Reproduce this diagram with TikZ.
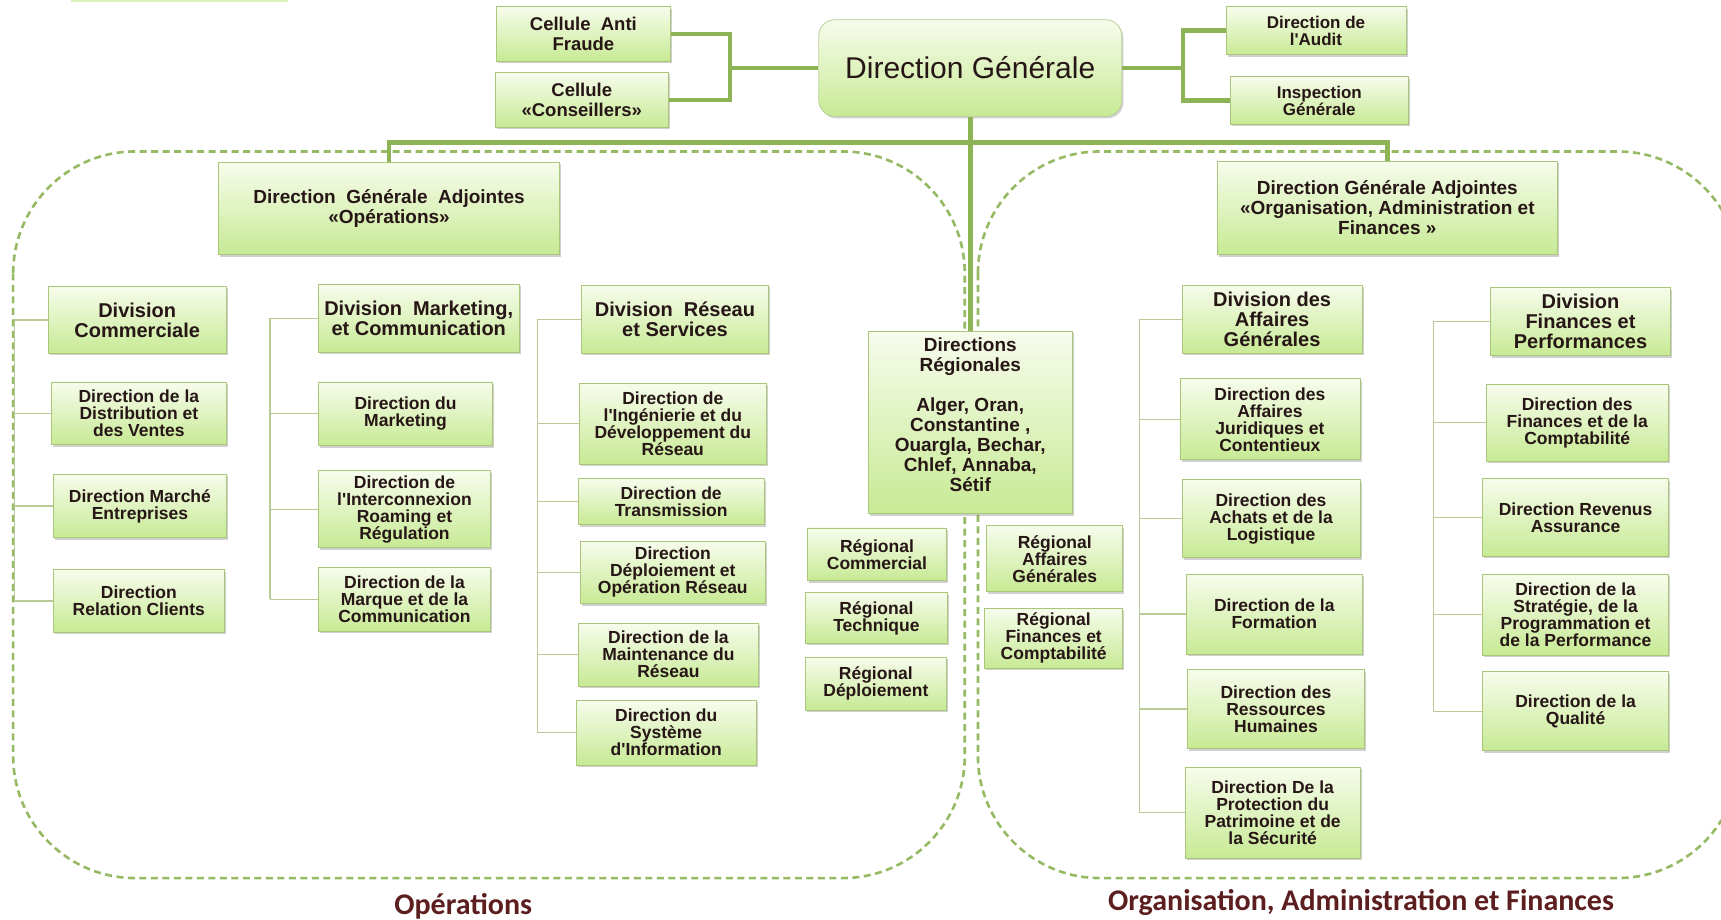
\documentclass[tikz,border=0pt]{standalone}
\usepackage{fontspec}
\setmainfont{Liberation Sans}
% box text keeps straight apostrophes: no TeX ligature mapping
\newfontfamily\boxfont{Liberation Sans}
\newfontfamily\labelfont{Carlito}
\usetikzlibrary{shadows}

\definecolor{txt}{RGB}{38,22,22}
\definecolor{boxtop}{RGB}{247,252,236}
\definecolor{boxbot}{RGB}{199,234,148}
\definecolor{boxline}{RGB}{170,198,122}
\definecolor{thickline}{RGB}{141,180,84}
\definecolor{thinline}{RGB}{186,202,150}
\definecolor{dashcol}{RGB}{150,186,100}
\definecolor{lbl}{RGB}{92,30,30}

\tikzset{
  orgbox/.style={draw=boxline, line width=0.8pt, top color=boxtop, bottom color=boxbot,
    inner sep=0pt, align=center, text=txt,
    drop shadow={shadow xshift=1.6pt, shadow yshift=-2pt, opacity=0.3, fill=black!60},
    font=\boxfont\bfseries\fontsize{17.5}{17}\selectfont},
  divfont/.style={font=\boxfont\bfseries\fontsize{20}{20}\selectfont},
  topfont/.style={font=\boxfont\bfseries\fontsize{18.5}{20}\selectfont},
  dgafont/.style={font=\boxfont\bfseries\fontsize{19}{20}\selectfont},
  smallfont/.style={font=\boxfont\bfseries\fontsize{17}{17}\selectfont},
  headbox/.style={rounded corners=16pt, draw=boxline!80,
    font=\boxfont\fontsize{30}{30}\selectfont},
  thickconn/.style={draw=thickline, line width=4.5pt},
  thinconn/.style={draw=thinline, line width=1.3pt},
  dashbox/.style={draw=dashcol, line width=2.6pt, dash pattern=on 7pt off 4.5pt,
    rounded corners=122pt},
  sectlabel/.style={text=lbl, font=\labelfont\bfseries\fontsize{30}{30}\selectfont},
}

% \obox[style]{name}{x1}{y1}{x2}{y2}{text}: box spanning the given corners
\newcommand\obox[7][]{%
  \node[orgbox,#1,minimum width={(#5-#3)*1.0976pt},minimum height={(#6-#4)*1.0976pt}]
    (#2) at ({(#3+#5)/2},{(#4+#6)/2}) {#7};}

\begin{document}
\begin{tikzpicture}[x=1.0976pt, y=-1.0976pt]
\useasboundingbox (0,0) rectangle (1568,838);
\clip (0,0) rectangle (1568,838);
\fill[white] (0,0) rectangle (1568,838);

% the two groups
\draw[dashbox] (12,138) rectangle (879,800);
\draw[dashbox] (891,138) rectangle (1585,800);

% edge of a box above the frame
\fill[boxbot!60] (65,0) rectangle (262,2);

% top level
\obox[topfont]{caf}{452}{6}{611}{56}{Cellule\ \ Anti\\Fraude}
\obox[topfont]{cons}{451}{66}{609}{116}{Cellule\\«Conseillers»}
\obox[headbox]{dg}{746}{18}{1022}{106}{Direction Générale}
\obox[smallfont]{audit}{1117}{6}{1281}{50}{Direction de\\l'Audit}
\obox[smallfont]{insp}{1121}{70}{1283}{113}{Inspection\\Générale}

\obox[dgafont]{dgaop}{199}{148}{510}{232}{Direction\ \ Générale\ \ Adjointes\\«Opérations»}
\obox[dgafont]{dgaoaf}{1109}{147}{1419}{232}{Direction Générale Adjointes\\«Organisation, Administration et\\Finances »}

% commercial
\obox[divfont]{dc}{44}{261}{206}{322}{Division\\Commerciale}
\obox{dd}{47}{348}{206}{405}{Direction de la\\Distribution et\\des Ventes}
\obox{dme}{49}{432}{206}{490}{Direction Marché\\Entreprises}
\obox{drc}{49}{519}{204}{576}{Direction\\Relation Clients}

% marketing
\obox[divfont]{dm}{290}{259}{473}{321}{Division\ \ Marketing,\\et Communication}
\obox{dmk}{290}{348}{449}{406}{Direction du\\Marketing}
\obox{dir}{290}{429}{447}{499}{Direction de\\l'Interconnexion\\Roaming et\\Régulation}
\obox{dmc}{290}{517}{447}{575}{Direction de la\\Marque et de la\\Communication}

% network
\obox[divfont]{drs}{530}{260}{700}{322}{Division\ \ Réseau\\et Services}
\obox{did}{528}{349}{698}{423}{Direction de\\l'Ingénierie et du\\Développement du\\Réseau}
\obox{dt}{527}{436}{696}{478}{Direction de\\Transmission}
\obox{ddo}{529}{493}{697}{550}{Direction\\Déploiement et\\Opération Réseau}
\obox{dmr}{527}{568}{691}{625}{Direction de la\\Maintenance du\\Réseau}
\obox{dsi}{525}{638}{689}{697}{Direction du\\Système\\d'Information}

% regional (text sits in the upper part of the box)
\obox[dgafont]{dr}{791}{302}{977}{468}{Directions\\Régionales\\[20pt]Alger, Oran,\\Constantine ,\\Ouargla, Bechar,\\Chlef, Annaba,\\Sétif\\[-4pt]\mbox{}}
\obox{rc}{736}{481}{862}{529}{Régional\\Commercial}
\obox{rt}{734}{540}{863}{586}{Régional\\Technique}
\obox{rd}{734}{599}{862}{647}{Régional\\Déploiement}
\obox{rag}{899}{479}{1023}{539}{Régional\\Affaires\\Générales}
\obox{rfc}{897}{554}{1023}{609}{Régional\\Finances et\\Comptabilité}

% general affairs
\obox[divfont]{dag}{1077}{260}{1241}{322}{Division des\\Affaires\\Générales}
\obox{daj}{1075}{345}{1239}{419}{Direction des\\Affaires\\Juridiques et\\Contentieux}
\obox{dal}{1077}{437}{1239}{508}{Direction des\\Achats et de la\\Logistique}
\obox{df}{1081}{523}{1241}{596}{Direction de la\\Formation}
\obox{drh}{1082}{610}{1243}{682}{Direction des\\Ressources\\Humaines}
\obox{dps}{1080}{699}{1239}{782}{Direction De la\\Protection du\\Patrimoine et de\\la Sécurité}

% finance
\obox[divfont]{dfp}{1358}{262}{1522}{324}{Division\\Finances et\\Performances}
\obox{dfc}{1354}{350}{1520}{420}{Direction des\\Finances et de la\\Comptabilité}
\obox{dra}{1351}{436}{1520}{507}{Direction Revenus\\Assurance}
\obox{dsp}{1351}{523}{1520}{597}{Direction de la\\Stratégie, de la\\Programmation et\\de la Performance}
\obox{dq}{1351}{612}{1520}{684}{Direction de la\\Qualité}

% thick links of the top level
\coordinate (lbr) at (665,62);
\coordinate (rbr) at (1078,62);
\coordinate (hub) at (884,130);
\draw[thickconn] (caf.east) -| (lbr) |- (cons.east);
\draw[thickconn] (lbr) -- (dg.west);
\draw[thickconn] (audit.west) -| (rbr) |- (insp.west);
\draw[thickconn] (dg.east) -- (rbr);
\draw[thickconn] (dg.south) -- (hub) -- (dr.north);
\draw[thickconn] (dgaop.north) |- (hub) -| (dgaoaf.north);

% thin tree links
\coordinate (sA) at (13,0);
\coordinate (sB) at (246,0);
\coordinate (sC) at (490,0);
\coordinate (sD) at (1038,0);
\coordinate (sE) at (1306,0);
\foreach \n in {dc,dd,dme,drc} \draw[thinconn] (\n.west) -- (\n.west -| sA);
\draw[thinconn] (dc.west -| sA) -- (drc.west -| sA);
\foreach \n in {dm,dmk,dir,dmc} \draw[thinconn] (\n.west) -- (\n.west -| sB);
\draw[thinconn] (dm.west -| sB) -- (dmc.west -| sB);
\foreach \n in {drs,did,dt,ddo,dmr,dsi} \draw[thinconn] (\n.west) -- (\n.west -| sC);
\draw[thinconn] (drs.west -| sC) -- (dsi.west -| sC);
\foreach \n in {dag,daj,dal,df,drh,dps} \draw[thinconn] (\n.west) -- (\n.west -| sD);
\draw[thinconn] (dag.west -| sD) -- (dps.west -| sD);
\foreach \n in {dfp,dfc,dra,dsp,dq} \draw[thinconn] (\n.west) -- (\n.west -| sE);
\draw[thinconn] (dfp.west -| sE) -- (dq.west -| sE);

% group names
\node[sectlabel] (lop) at (422,826) {Opérations};
\node[sectlabel] (loaf) at (1240,822) {Organisation, Administration et Finances};
\end{tikzpicture}
\end{document}
